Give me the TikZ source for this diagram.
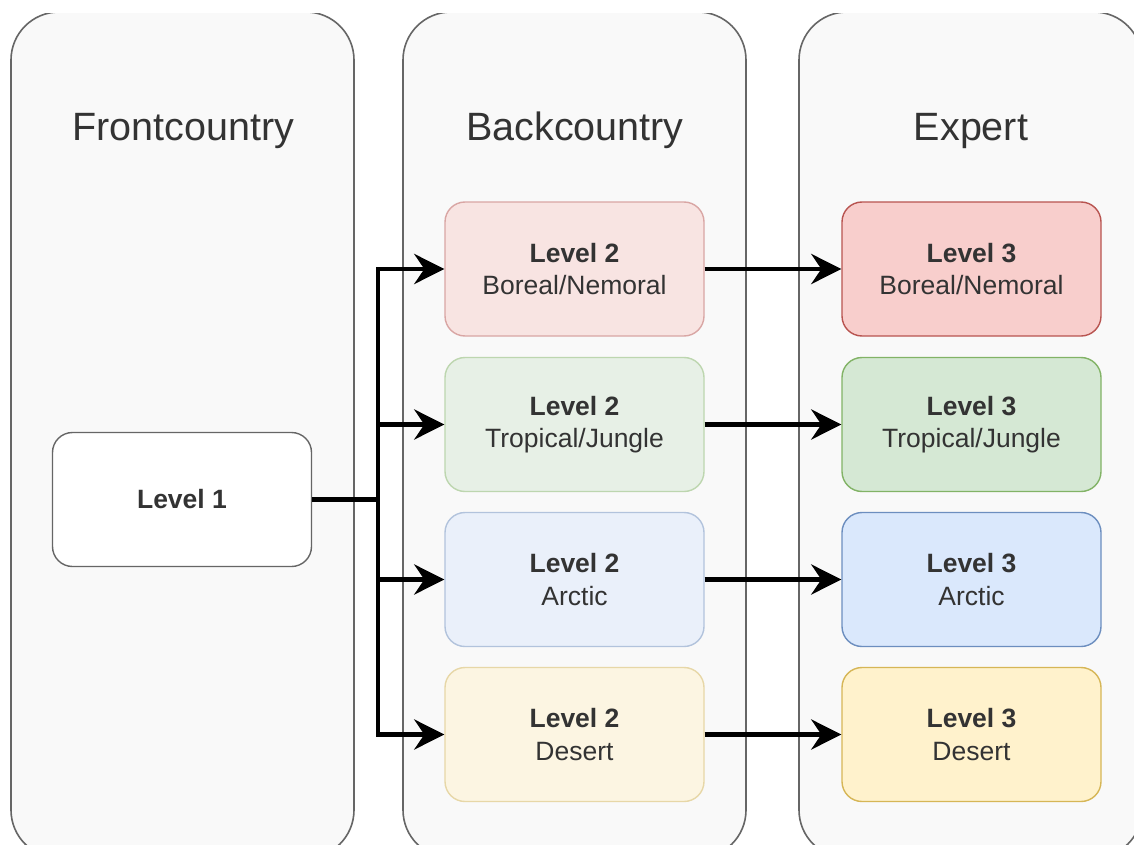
\documentclass[tikz,border=0pt]{standalone}
\usepackage{fontspec}
\setmainfont{Liberation Sans}
\usetikzlibrary{arrows.meta}
\definecolor{txt}{HTML}{333333}
\definecolor{panelfill}{HTML}{F9F9F9}
\definecolor{panelline}{HTML}{666666}
\definecolor{rf}{HTML}{F8CECC}\definecolor{rs}{HTML}{B85450}
\definecolor{gf}{HTML}{D5E8D4}\definecolor{gs}{HTML}{82B366}
\definecolor{bf}{HTML}{DAE8FC}\definecolor{bs}{HTML}{6C8EBF}
\definecolor{yf}{HTML}{FFF2CC}\definecolor{ys}{HTML}{D6B656}
\begin{document}
\begin{tikzpicture}[x=1pt,y=-1pt,
  panel/.style={draw=panelline, fill=panelfill, line width=1.6pt, rounded corners=48pt,
    minimum width=343pt, minimum height=846pt, inner sep=0pt},
  title/.style={text=txt, font=\fontsize{39.5}{46}\selectfont, inner sep=0pt, anchor=base},
  box/.style={rounded corners=20pt, minimum width=259pt, minimum height=134pt, inner sep=0pt,
    line width=1.4pt, align=center, text=txt, font=\fontsize{26.5}{32.5}\selectfont},
  lvtwo/.style={box, draw=#1s!50!panelfill, fill=#1f!50!panelfill},
  lvthree/.style={box, draw=#1s, fill=#1f},
  conn/.style={line width=4.8pt, line join=miter, -{Stealth[length=30pt,width=30pt,inset=10pt]}}
]
\useasboundingbox (0,0) rectangle (1134,845);
\fill[white] (0,0) rectangle (1134,845);
\begin{scope}
  \clip (0,14) rectangle (1134,845);
  \node[panel] (p1) at (182.5,435) {};
  \node[panel] (p2) at (574.5,435) {};
  \node[panel] (p3) at (970.5,435) {};
\end{scope}
\node[title] (t1) at (183.5,141) {Frontcountry};
\node[title] (t2) at (575,141) {Backcountry};
\node[title] (t3) at (971,141) {Expert};

\node[box, draw=panelline, fill=white] (l1) at (182,499.5) {\bfseries Level 1};

\node[lvtwo=r] (b1) at (574.5,269) {\bfseries Level 2\\Boreal/Nemoral};
\node[lvtwo=g] (b2) at (574.5,424.5) {\bfseries Level 2\\Tropical/Jungle};
\node[lvtwo=b] (b3) at (574.5,579.5) {\bfseries Level 2\\Arctic};
\node[lvtwo=y] (b4) at (574.5,734.5) {\bfseries Level 2\\Desert};

\node[lvthree=r] (e1) at (971.5,269) {\bfseries Level 3\\Boreal/Nemoral};
\node[lvthree=g] (e2) at (971.5,424.5) {\bfseries Level 3\\Tropical/Jungle};
\node[lvthree=b] (e3) at (971.5,579.5) {\bfseries Level 3\\Arctic};
\node[lvthree=y] (e4) at (971.5,734.5) {\bfseries Level 3\\Desert};

\coordinate (j) at (378,499.5);
\foreach \i in {1,2,3,4}{
  \draw[conn] (l1.east) -- (j) |- (b\i.west);
  \draw[conn] (b\i.east) -- (e\i.west);
}
\end{tikzpicture}
\end{document}
